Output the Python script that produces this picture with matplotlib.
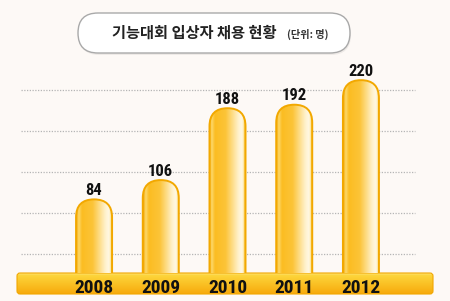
import numpy as np
import matplotlib
matplotlib.use('Agg')
import matplotlib.pyplot as plt
from matplotlib import font_manager
from matplotlib.patches import FancyBboxPatch
from matplotlib.colors import LinearSegmentedColormap

# ---------------------- Data ----------------------

years = ['2008', '2009', '2010', '2011', '2012']
hires = [84, 106, 188, 192, 220]
title = '기능대회 입상자 채용 현황'
unit = '(단위: 명)'

# ---------------------- Style ----------------------

BG = '#fdf9f6'
installed = {f.name for f in font_manager.fontManager.ttflist}
narrow = [n for n in ['Liberation Sans Narrow', 'Arial Narrow', 'DejaVu Sans Condensed',
                      'Roboto Condensed', 'Open Sans Condensed', 'Liberation Sans']
          if n in installed]
NARROW = narrow[:1] + ['DejaVu Sans']
KR = ['Noto Sans CJK KR', 'DejaVu Sans']

bar_cmap = LinearSegmentedColormap.from_list('bar', [
    (0.00, '#f4a600'), (0.07, '#fdd86a'), (0.16, '#fbbd22'),
    (0.45, '#fcc438'), (0.80, '#fff2cc'), (0.90, '#fff8e4'),
    (0.95, '#fde49a'), (1.00, '#f5ad00')])
band_cmap = LinearSegmentedColormap.from_list('band', [
    (0.00, '#fee27a'), (0.10, '#fdd53a'), (1.00, '#f7aa0c')])

fig = plt.figure(figsize=(4.5, 3.01), dpi=100, facecolor=BG)

# ---------------------- Decoration layer (pixel coords) ----------------------

deco = fig.add_axes([0, 0, 1, 1], zorder=0)
deco.axis('off')

shadow = FancyBboxPatch((79, 15), 272, 40, boxstyle='round,pad=0,rounding_size=20',
                        fc='#000000', ec='none', alpha=0.06)
deco.add_patch(shadow)
box = FancyBboxPatch((78, 13), 272, 40, boxstyle='round,pad=0,rounding_size=20',
                     fc='white', ec='#a9a9a9', lw=1.0)
deco.add_patch(box)
deco.text(112, 33, title, ha='left', va='center', fontsize=11,
          weight='bold', family=KR, color='#222222')
deco.text(287, 34, unit, ha='left', va='center', fontsize=7.3,
          weight='bold', family=KR, color='#333333')

band = FancyBboxPatch((17, 273), 416, 21, boxstyle='round,pad=0,rounding_size=3',
                      fc='none', ec='#f2a700', lw=0.8)
deco.add_patch(band)
band_img = deco.imshow(np.linspace(0, 1, 50).reshape(-1, 1), cmap=band_cmap,
                       extent=(17, 433, 294, 273), origin='upper', aspect='auto')
band_img.set_clip_path(band)

deco.set_xlim(0, 450)
deco.set_ylim(301, 0)

# ---------------------- Main chart ----------------------

ax = fig.add_axes([18 / 450, 28 / 301, 415 / 450, 213 / 301], zorder=1)
ax.patch.set_alpha(0)
ax.set_xlim(-1.14, 5.08)
ax.set_ylim(0, 243)

for f in [0.089, 0.282, 0.474, 0.667, 0.859]:
    ax.plot([0.007, 0.957], [f, f], transform=ax.transAxes, color='#b5b5b5',
            lw=0.9, ls=(0, (1, 1.2)), zorder=1)

x = np.arange(len(years))
w = 0.54
p0 = ax.transData.transform((0, 0))
p1 = ax.transData.transform((1, 1))
aspect = (p1[0] - p0[0]) / (p1[1] - p0[1])
ry = w / 2 * aspect

grad = np.linspace(0, 1, 100).reshape(1, -1)
for xi, v in zip(x, hires):
    patch = FancyBboxPatch((xi - w / 2, -ry), w, v + ry,
                           boxstyle=f'round,pad=0,rounding_size={w / 2}',
                           mutation_aspect=aspect, fc='none', ec='#f2a800',
                           lw=1.4, zorder=3)
    ax.add_patch(patch)
    im = ax.imshow(grad, cmap=bar_cmap, extent=(xi - w / 2, xi + w / 2, 0, v),
                   aspect='auto', zorder=2)
    im.set_clip_path(patch)
    ax.annotate(str(v), (xi, v), xytext=(0, 1), textcoords='offset points',
                ha='center', va='bottom', fontsize=12, weight='bold',
                family=NARROW, color='#111111')

ax.set_xlim(-1.14, 5.08)
ax.set_ylim(0, 243)
ax.set_xticks(x, years, fontsize=14, weight='bold', family=NARROW, color='#111111')
ax.set_yticks([])
ax.tick_params(axis='x', length=0, pad=4)
for s in ax.spines.values():
    s.set_visible(False)

fig.savefig('out.png', dpi=100, facecolor=BG)
